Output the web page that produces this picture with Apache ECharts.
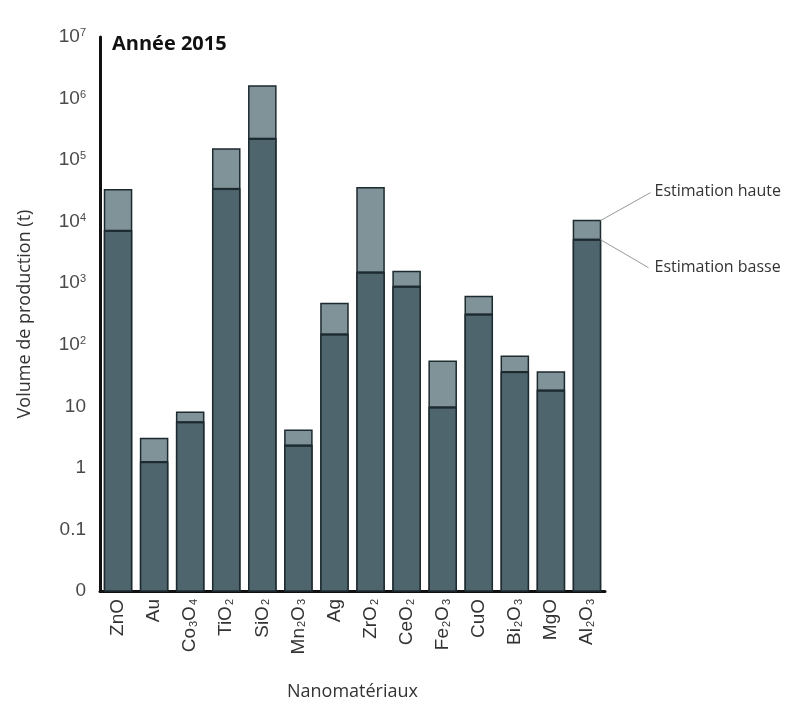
<!DOCTYPE html>
<html>
<head>
<meta charset="utf-8">
<script src="https://cdn.jsdelivr.net/npm/echarts@6/dist/echarts.min.js"></script>
<style>html,body{margin:0;padding:0;background:#fff;}#c{width:792px;height:706px;}</style>
</head>
<body>
<div id="c"></div>
<script>
// Categories (rich-text markup for subscripts)
const categories = ['ZnO','Au','Co{s|3}O{s|4}','TiO{s|2}','SiO{s|2}','Mn{s|2}O{s|3}','Ag','ZrO{s|2}','CeO{s|2}','Fe{s|2}O{s|3}','CuO','Bi{s|2}O{s|3}','MgO','Al{s|2}O{s|3}'];
// Production volume (t), year 2015
const lowEstimate  = [7100, 1.24, 5.5, 34000, 222000, 2.3, 147, 1490, 880, 9.6, 310, 36, 18, 5100];
const highEstimate = [33000, 3.0, 8.0, 152000, 1600000, 4.1, 470, 35500, 1550, 54, 610, 65, 36, 10400];
// Y tick labels, from 0.01 (shown as "0") up to 10^7
const yTickLabels = ['0','0.1','1','10','10{sup|2}','10{sup|3}','10{sup|4}','10{sup|5}','10{sup|6}','10{sup|7}'];
const yMin = 0.01, yMax = 1e7;
const annotationLabels = ['Estimation haute', 'Estimation basse'];

const chart = echarts.init(document.getElementById('c'));
const data = categories.map((c, i) => [i, lowEstimate[i], highEstimate[i]]);

const darkFill = '#4f656d', lightFill = '#7f9398', edge = '#1d2a2f';

chart.setOption({
  backgroundColor: '#fff',
  animation: false,
  title: {
    text: 'Année 2015', left: 107, top: 29,
    textStyle: {fontFamily: 'Open Sans', fontWeight: 'bold', fontSize: 20, color: '#111'}
  },
  grid: {left: 100, right: 187, top: 37, bottom: 114, containLabel: false},
  xAxis: {
    type: 'category', data: categories,
    name: 'Nanomatériaux', nameLocation: 'middle', nameGap: 92,
    nameTextStyle: {fontFamily: 'Open Sans', fontSize: 18, color: '#333'},
    axisLine: {onZero: false, lineStyle: {color: '#111', width: 3}},
    axisTick: {inside: true, length: 13, lineStyle: {color: '#111', width: 3}},
    axisLabel: {
      rotate: 90, margin: 8, interval: 0,
      fontFamily: 'Liberation Sans', fontSize: 19, color: '#333',
      rich: {s: {fontFamily: 'Liberation Sans', fontSize: 11, color: '#333', verticalAlign: 'bottom', padding: [8, 0, 0, 1]}}
    }
  },
  yAxis: {
    type: 'log', logBase: 10, min: yMin, max: yMax, splitNumber: 9,
    name: 'Volume de production (t)', nameLocation: 'middle', nameGap: 66,
    nameTextStyle: {fontFamily: 'Open Sans', fontSize: 18, color: '#333'},
    axisLine: {show: true, lineStyle: {color: '#111', width: 3}},
    axisTick: {show: false},
    splitLine: {show: false},
    axisLabel: {
      margin: 14, fontFamily: 'Liberation Sans', fontSize: 19, color: '#4a4a4a',
      formatter: v => yTickLabels[Math.round(Math.log10(v)) + 2],
      rich: {sup: {fontFamily: 'Liberation Sans', fontSize: 11, color: '#4a4a4a', verticalAlign: 'top', padding: [0, 0, 6, 0]}}
    }
  },
  series: [{
    type: 'custom', clip: false, data: data,
    encode: {x: 0, y: [1, 2]},
    renderItem: function (params, api) {
      const i = api.value(0), low = api.value(1), high = api.value(2);
      const base = api.coord([i, yMin]);
      const pL = api.coord([i, low]);
      const pH = api.coord([i, high]);
      let bw = api.size([1, 1])[0];
      if (!isFinite(bw)) bw = 36;
      const w = bw * 0.75;
      const x0 = base[0] - w / 2;
      const children = [
        {type: 'rect', shape: {x: x0, y: pH[1], width: w, height: base[1] - pH[1]},
         style: {fill: lightFill, stroke: edge, lineWidth: 1.5}},
        {type: 'rect', shape: {x: x0, y: pL[1], width: w, height: base[1] - pL[1]},
         style: {fill: darkFill, stroke: edge, lineWidth: 1.5}},
        {type: 'line', shape: {x1: x0, y1: pL[1], x2: x0 + w, y2: pL[1]},
         style: {stroke: edge, lineWidth: 2.2}}
      ];
      if (params.dataIndex === categories.length - 1) {
        const xr = x0 + w;
        children.push(
          {type: 'line', shape: {x1: xr, y1: pH[1], x2: xr + 50, y2: pH[1] - 28}, style: {stroke: '#999', lineWidth: 1}},
          {type: 'line', shape: {x1: xr, y1: pL[1], x2: xr + 48, y2: pL[1] + 28}, style: {stroke: '#999', lineWidth: 1}},
          {type: 'text', style: {x: xr + 54, y: pH[1] - 29, text: annotationLabels[0], fill: '#333', font: '16px "Open Sans"', verticalAlign: 'middle'}},
          {type: 'text', style: {x: xr + 54, y: pL[1] + 28, text: annotationLabels[1], fill: '#333', font: '16px "Open Sans"', verticalAlign: 'middle'}}
        );
      }
      return {type: 'group', children: children};
    }
  }]
});
</script>
</body>
</html>
